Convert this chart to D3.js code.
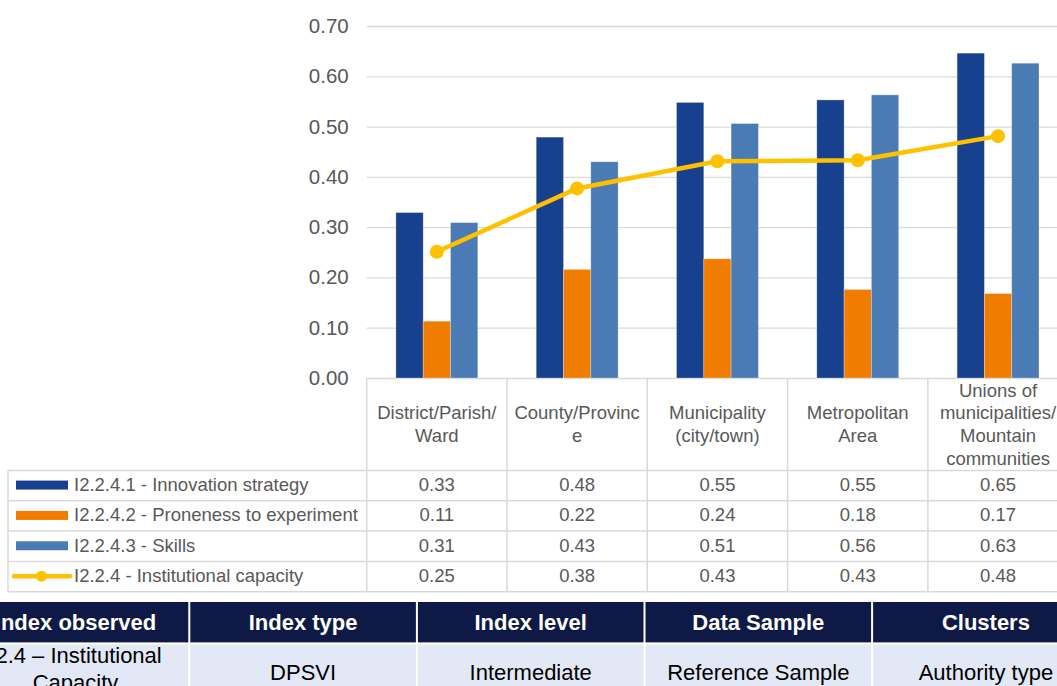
<!DOCTYPE html>
<html>
<head>
<meta charset="utf-8">
<script src="https://cdn.jsdelivr.net/npm/d3@7"></script>
<style>
body { margin: 0; background: #fff; overflow: hidden; }
text { font-family: "Liberation Sans", Arial, sans-serif; }
</style>
</head>
<body>
<div id="chart"></div>
<script>
// chart data
var categories = ["District/Parish/\nWard", "County/Provinc\ne", "Municipality\n(city/town)", "Metropolitan\nArea", "Unions of\nmunicipalities/\nMountain\ncommunities"];
var barSeries = ["I2.2.4.1 - Innovation strategy", "I2.2.4.2 - Proneness to experiment", "I2.2.4.3 - Skills"];
var lineSeries = "I2.2.4 - Institutional capacity";
var innovation = [0.329, 0.479, 0.548, 0.553, 0.646];
var proneness = [0.113, 0.216, 0.237, 0.176, 0.168];
var skills = [0.309, 0.430, 0.506, 0.563, 0.626];
var institutional = [0.251, 0.377, 0.431, 0.433, 0.481];
var yTicks = [0, 0.1, 0.2, 0.3, 0.4, 0.5, 0.6, 0.7];

var infoHeaders = ["Index observed", "Index type", "Index level", "Data Sample", "Clusters"];
var infoValues = ["I2.4 \u2013 Institutional\nCapacity", "DPSVI", "Intermediate", "Reference Sample", "Authority type"];

var barColors = ["#17408f", "#f07d00", "#4a7bb5"];
var lineColor = "#ffc000";
var gridColor = "#d9d9d9";
var textColor = "#595959";

var W = 1057, H = 686;
var plotLeft = 366.7, step = 140.3;
var svg = d3.select("#chart").append("svg")
  .attr("width", W)
  .attr("height", H);

var x = d3.scaleBand()
  .domain(categories)
  .range([plotLeft, plotLeft + step * categories.length]);

var xs = d3.scaleBand()
  .domain(barSeries)
  .range([0, x.bandwidth()])
  .paddingOuter(1.07);

var y = d3.scaleLinear()
  .domain([0, 0.7])
  .range([378, 26]);

// gridlines + y labels
var yAxis = d3.axisLeft(y)
  .tickValues(yTicks)
  .tickFormat(d3.format(".2f"))
  .tickSize(-(W - plotLeft))
  .tickPadding(18);

var gy = svg.append("g")
  .attr("transform", "translate(" + plotLeft + ",0)")
  .call(yAxis);
gy.select(".domain").remove();
gy.selectAll(".tick line").attr("stroke", gridColor).attr("stroke-width", 1.3);
gy.selectAll(".tick text")
  .attr("fill", textColor)
  .style("font-size", "20.5px")
  .style("font-family", "'Liberation Sans', Arial, sans-serif");

// bars
var seriesValues = [innovation, proneness, skills];
var barData = [];
categories.forEach(function(c, i) {
  barSeries.forEach(function(s, j) {
    barData.push({cat: c, series: s, j: j, value: seriesValues[j][i]});
  });
});

svg.append("g").selectAll("rect")
  .data(barData)
  .enter().append("rect")
  .attr("x", function(d) { return x(d.cat) + xs(d.series); })
  .attr("y", function(d) { return y(d.value); })
  .attr("width", xs.bandwidth())
  .attr("height", function(d) { return y(0) - y(d.value); })
  .attr("fill", function(d) { return barColors[d.j]; })
  .attr("stroke", "#ffffff")
  .attr("stroke-opacity", 0.35)
  .attr("stroke-width", 0.8);

// line series
var line = d3.line()
  .x(function(d, i) { return x(categories[i]) + x.bandwidth() / 2; })
  .y(function(d) { return y(d); });

svg.append("path")
  .datum(institutional)
  .attr("d", line)
  .attr("fill", "none")
  .attr("stroke", lineColor)
  .attr("stroke-width", 4.5)
  .attr("stroke-linejoin", "round");

svg.append("g").selectAll("circle")
  .data(institutional)
  .enter().append("circle")
  .attr("cx", function(d, i) { return x(categories[i]) + x.bandwidth() / 2; })
  .attr("cy", function(d) { return y(d); })
  .attr("r", 7)
  .attr("fill", lineColor);

// data table under the plot
var tableTop = y(0), headH = 92.4, rowH = 30.35, tableLeft = 8;
var rowsTop = tableTop + headH;
var nRows = barSeries.length + 1;
var tableBottom = rowsTop + rowH * nRows;
var tbl = svg.append("g");

// horizontal rules
for (var r = 0; r <= nRows; r++) {
  tbl.append("line")
    .attr("x1", tableLeft).attr("x2", W)
    .attr("y1", rowsTop + r * rowH).attr("y2", rowsTop + r * rowH)
    .attr("stroke", gridColor).attr("stroke-width", 1.5);
}
// vertical rules
tbl.append("line")
  .attr("x1", tableLeft).attr("x2", tableLeft)
  .attr("y1", rowsTop).attr("y2", tableBottom)
  .attr("stroke", gridColor).attr("stroke-width", 1.5);
categories.forEach(function(c) {
  tbl.append("line")
    .attr("x1", x(c)).attr("x2", x(c))
    .attr("y1", tableTop).attr("y2", tableBottom)
    .attr("stroke", gridColor).attr("stroke-width", 1.5);
});

// category headers
categories.forEach(function(c) {
  var lines = c.split("\n");
  var lh = 22.8;
  var cy = tableTop + headH / 2;
  var t = tbl.append("text")
    .attr("text-anchor", "middle")
    .attr("fill", textColor)
    .style("font-size", "18.5px");
  lines.forEach(function(l, k) {
    t.append("tspan")
      .attr("x", x(c) + x.bandwidth() / 2)
      .attr("y", cy + (k - (lines.length - 1) / 2) * lh + 6.5)
      .text(l);
  });
});

// legend + value rows
var f2 = d3.format(".2f");
var allSeries = barSeries.concat([lineSeries]);
var allValues = seriesValues.concat([institutional]);
allSeries.forEach(function(s, r) {
  var cy = rowsTop + r * rowH + rowH / 2;
  if (r < barSeries.length) {
    tbl.append("rect")
      .attr("x", 16).attr("y", cy - 5)
      .attr("width", 52).attr("height", 9)
      .attr("fill", barColors[r]);
  } else {
    tbl.append("line")
      .attr("x1", 14).attr("x2", 70)
      .attr("y1", cy - 0.5).attr("y2", cy - 0.5)
      .attr("stroke", lineColor).attr("stroke-width", 4.5)
      .attr("stroke-linecap", "round");
    tbl.append("circle")
      .attr("cx", 41.5).attr("cy", cy - 0.5).attr("r", 5.5)
      .attr("fill", lineColor);
  }
  tbl.append("text")
    .attr("x", 74).attr("y", cy + 5.5)
    .attr("fill", textColor)
    .style("font-size", "18.5px")
    .text(s);
  allValues[r].forEach(function(v, i) {
    tbl.append("text")
      .attr("x", x(categories[i]) + x.bandwidth() / 2)
      .attr("y", cy + 5.5)
      .attr("text-anchor", "middle")
      .attr("fill", textColor)
      .style("font-size", "18.5px")
      .text(f2(v));
  });
});

// info table at the bottom
var colX = d3.scaleBand()
  .domain(infoHeaders)
  .range([-37.3, -37.3 + 227.2 * infoHeaders.length])
  .paddingInner(2 / 227.2);

var info = svg.append("g");
info.selectAll("rect.head")
  .data(infoHeaders)
  .enter().append("rect")
  .attr("class", "head")
  .attr("x", function(d) { return colX(d); })
  .attr("y", 602)
  .attr("width", colX.bandwidth())
  .attr("height", 40.4)
  .attr("fill", "#0e1a45");

info.selectAll("text.head")
  .data(infoHeaders)
  .enter().append("text")
  .attr("class", "head")
  .attr("x", function(d) { return colX(d) + colX.bandwidth() / 2; })
  .attr("y", 630)
  .attr("text-anchor", "middle")
  .attr("fill", "#ffffff")
  .style("font-size", "22px")
  .style("font-weight", "bold")
  .text(function(d) { return d; });

info.selectAll("rect.val")
  .data(infoHeaders)
  .enter().append("rect")
  .attr("class", "val")
  .attr("x", function(d) { return colX(d); })
  .attr("y", 644.4)
  .attr("width", colX.bandwidth())
  .attr("height", 64)
  .attr("fill", "#e2e8f6");

infoValues.forEach(function(v, i) {
  var lines = v.split("\n");
  var cx = colX(infoHeaders[i]) + colX.bandwidth() / 2;
  var t = info.append("text")
    .attr("text-anchor", "middle")
    .attr("fill", "#000000")
    .style("font-size", "22px");
  lines.forEach(function(l, k) {
    t.append("tspan")
      .attr("x", cx)
      .attr("y", lines.length > 1 ? 663 + k * 26.5 : 680)
      .text(l);
  });
});
</script>
</body>
</html>
